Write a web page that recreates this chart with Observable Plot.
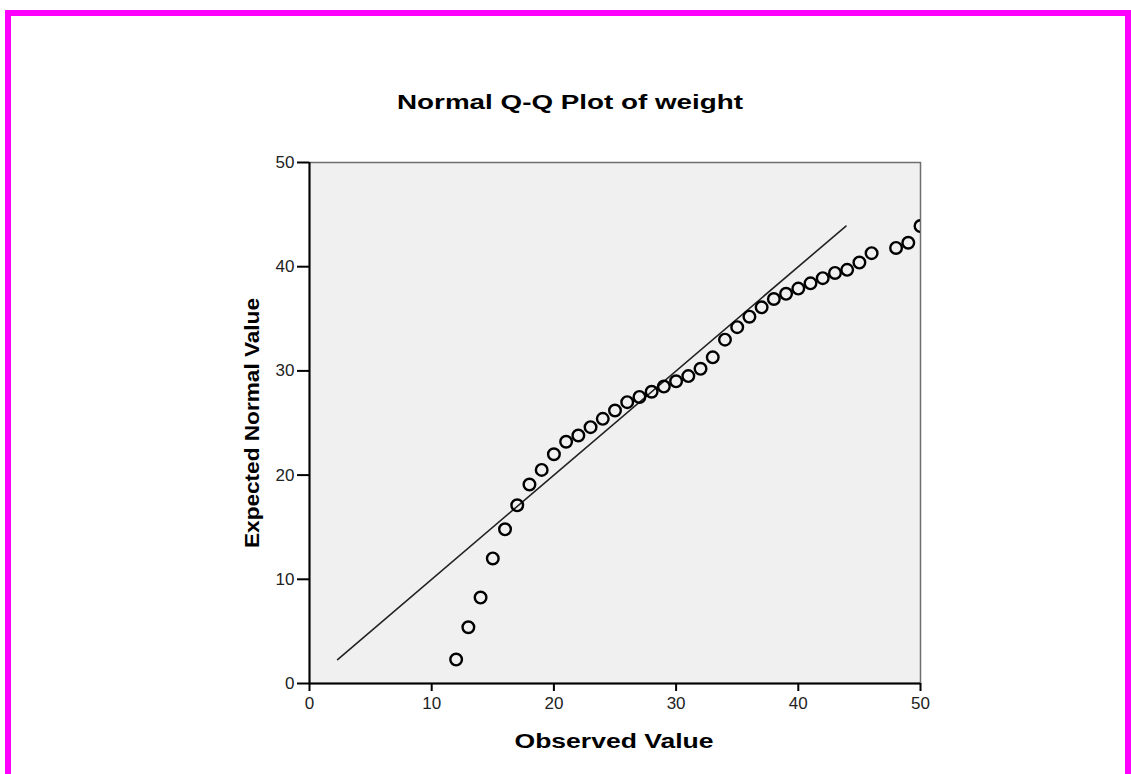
<!DOCTYPE html>
<html>
<head>
<meta charset="utf-8">
<script src="https://cdn.jsdelivr.net/npm/d3@7"></script>
<script src="https://cdn.jsdelivr.net/npm/@observablehq/plot@0.6"></script>
<style>
  html, body { margin: 0; padding: 0; background: #fff; width: 1131px; height: 774px; overflow: hidden; }
  #border { position: absolute; left: 5px; top: 10px; width: 1114px; height: 900px;
            border: 6px solid #ff00ff; border-bottom: none; box-sizing: content-box; }
  #chart { position: absolute; left: 0; top: 0; }
  #chart svg g[aria-label="x-axis tick label"] text,
  #chart svg g[aria-label="y-axis tick label"] text { font-size: 17px !important; font-family: "Liberation Sans", Arial, sans-serif; fill: #222; }
  .lbl { position: absolute; font-family: "Liberation Sans", Arial, sans-serif; font-weight: bold;
         color: #000; white-space: nowrap; line-height: 1; }
</style>
</head>
<body>
<div id="border"></div>
<div id="chart"></div>
<div class="lbl" id="title" style="font-size:19.5px">Normal Q-Q Plot of weight</div>
<div class="lbl" id="ylab" style="font-size:19.5px">Expected Normal Value</div>
<div class="lbl" id="xlab" style="font-size:20px">Observed Value</div>
<script>
const observed = [12,13,14,15,16,17,18,19,20,21,22,23,24,25,26,27,28,29,30,31,32,33,34,35,36,37,38,39,40,41,42,43,44,45,46,48,49,50];
const expected = [2.3,5.4,8.25,12.0,14.8,17.1,19.1,20.5,22.0,23.2,23.8,24.6,25.4,26.2,27.0,27.5,28.0,28.5,29.0,29.5,30.2,31.3,33.0,34.2,35.2,36.1,36.9,37.4,37.9,38.4,38.9,39.4,39.7,40.4,41.3,41.8,42.3,43.9];
// Reference line y = x spanning the expected range
const refLine = [2.3, 43.9];
const ticks = [0, 10, 20, 30, 40, 50];

const points = observed.map((v, i) => ({x: v, y: expected[i]}));
const line = refLine.map(v => ({x: v, y: v}));

const chart = Plot.plot({
  width: 1131,
  height: 774,
  marginLeft: 309,
  marginRight: 211,
  marginTop: 162,
  marginBottom: 91,
  style: {background: "transparent", fontFamily: "Liberation Sans, Arial, sans-serif", fontSize: "17px", color: "#000", overflow: "visible"},
  x: {domain: [0, 50]},
  y: {domain: [0, 50]},
  marks: [
    Plot.frame({fill: "#f0f0f0", stroke: "#6e6e6e", strokeWidth: 1.5}),
    Plot.line(line, {x: "x", y: "y", stroke: "#222", strokeWidth: 1.6}),
    Plot.dot(points, {x: "x", y: "y", r: 5.8, stroke: "#000", strokeWidth: 2.4, fill: "none", clip: true}),
    Plot.ruleX([0], {stroke: "#000", strokeWidth: 2}),
    Plot.ruleY([0], {stroke: "#000", strokeWidth: 2}),
    Plot.axisX({ticks, tickSize: 8, tickPadding: 5, label: null, stroke: "#000", strokeWidth: 2, fontSize: 17, fill: "#222"}),
    Plot.axisY({ticks, tickSize: 12, tickPadding: 3, label: null, stroke: "#000", strokeWidth: 2, fontSize: 17, fill: "#222"})
  ]
});
document.getElementById("chart").appendChild(chart);

function place(id, cx, cy, targetLen, rotate) {
  const el = document.getElementById(id);
  const w = el.getBoundingClientRect().width;
  const s = targetLen / w;
  el.style.left = cx + "px";
  el.style.top = cy + "px";
  el.style.transform = "translate(-50%,-50%)" + (rotate ? " rotate(-90deg)" : "") + " scaleX(" + s + ")";
}
place("title", 570, 103, 346, false);
place("ylab", 253, 423, 250, true);
place("xlab", 614, 741, 199, false);
</script>
</body>
</html>
